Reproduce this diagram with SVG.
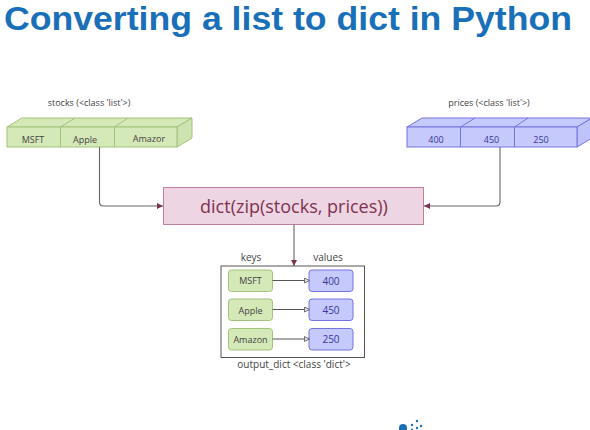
<svg xmlns="http://www.w3.org/2000/svg" width="590" height="430" viewBox="0 0 590 430">
<style>
text{font-family:"Open Sans","Noto Sans","Liberation Sans",sans-serif;text-anchor:middle}
.lbl{font-size:9px;fill:#444}
.g{fill:#d5e8b8;stroke:#a3c27c;stroke-width:1}
.gs{fill:#cfe3b0;stroke:#a3c27c;stroke-width:1}
.gt{font-size:9px;fill:#444}
.b{fill:#c6c9fb;stroke:#7474e0;stroke-width:1}
.bs{fill:#bfc3f9;stroke:#7474e0;stroke-width:1}
.bt{font-size:9px;fill:#37379a}
.c{fill:none;stroke:#666;stroke-width:1.100}
.m{fill:none;stroke:#555;stroke-width:1}
</style>
<defs>
<marker id="a" markerUnits="userSpaceOnUse" markerWidth="7" markerHeight="7" refX="6" refY="3.500" orient="auto"><path d="M0 0.500L6 3.500L0 6.500Z" fill="#7d3350"/></marker>
<marker id="o" markerUnits="userSpaceOnUse" markerWidth="6" markerHeight="6" refX="5" refY="3" orient="auto"><path d="M0.500 0.500L5.500 3L0.500 5.500Z" fill="#ddd" stroke="#555" stroke-width="0.800"/></marker>
</defs>
<rect width="590" height="430" fill="#fff"/>
<text x="288" y="30" style="font-family:'Liberation Sans',Arial,sans-serif;font-size:33px;font-weight:700;fill:#1a70b8" textLength="568" lengthAdjust="spacingAndGlyphs">Converting a list to dict in Python</text>
<g id="stocks">
<text class="lbl" x="89" y="106">stocks (&lt;class 'list'&gt;)</text>
<path class="g" d="M7 127L22 118H192L177 127Z"/>
<path class="gs" d="M177 127L192 118V138L177 147Z"/>
<rect class="g" x="7" y="127" width="170" height="20"/>
<path fill="none" stroke="#a3c27c" d="M60.500 127V147M114.500 127V147M60.500 127L75 118M114.500 127L128 118"/>
<text class="gt" x="33" y="142.500">MSFT</text>
<text class="gt" x="85" y="142.500">Apple</text>
<text class="gt" x="149" y="142">Amazor</text>
</g>
<g id="prices">
<text class="lbl" x="489" y="106">prices (&lt;class 'list'&gt;)</text>
<path class="b" d="M407 127L422 118H592L577 127Z"/>
<path class="bs" d="M577 127L592 118V138L577 147Z"/>
<rect class="b" x="407" y="127" width="170" height="20"/>
<path fill="none" stroke="#7474e0" d="M460.500 127V147M514.500 127V147M460.500 127L475 118M514.500 127L528 118"/>
<text class="bt" x="436" y="142.500">400</text>
<text class="bt" x="491.500" y="142.500">450</text>
<text class="bt" x="541" y="142.500">250</text>
</g>
<g id="zip">
<rect x="163.500" y="187.500" width="260" height="37" fill="#eed5e3" stroke="#bf7f9f" stroke-width="1"/>
<text x="294" y="212.500" style="font-size:18px;fill:#7d3350">dict(zip(stocks, prices))</text>
</g>
<g id="output">
<rect x="221" y="266" width="143.500" height="91.500" fill="#fff" stroke="#555" stroke-width="1"/>
<text class="lbl" x="251" y="261" style="font-size:10px">keys</text>
<text class="lbl" x="328" y="261" style="font-size:10px">values</text>
<text class="lbl" x="294" y="368" style="font-size:10px">output_dict &lt;class 'dict'&gt;</text>
</g>
<g id="k1"><rect class="g" x="228.500" y="270" width="44" height="21.500" rx="3"/><text class="gt" x="250.500" y="284">MSFT</text></g>
<g id="k2"><rect class="g" x="228.500" y="299" width="44" height="21.500" rx="3"/><text class="gt" x="250.500" y="313.500">Apple</text></g>
<g id="k3"><rect class="g" x="228.500" y="328.500" width="44" height="21.500" rx="3"/><text class="gt" x="250.500" y="342.500">Amazon</text></g>
<g id="v1"><rect class="b" x="309" y="270" width="44" height="21.500" rx="3"/><text class="bt" x="331" y="284.500" style="font-size:10px">400</text></g>
<g id="v2"><rect class="b" x="309" y="299" width="44" height="21.500" rx="3"/><text class="bt" x="331" y="313.500" style="font-size:10px">450</text></g>
<g id="v3"><rect class="b" x="309" y="328.500" width="44" height="21.500" rx="3"/><text class="bt" x="331" y="343" style="font-size:10px">250</text></g>
<g id="connectors">
<path class="c" d="M99.500 147V202Q99.500 206 103.500 206H163" marker-end="url(#a)"/>
<path class="c" d="M500 147V202Q500 206 496 206H424" marker-end="url(#a)"/>
<path class="c" d="M294 224.500V266" marker-end="url(#a)"/>
<path class="m" d="M272.500 280.500H309" marker-end="url(#o)"/>
<path class="m" d="M272.500 309.500H309" marker-end="url(#o)"/>
<path class="m" d="M272.500 339H309" marker-end="url(#o)"/>
</g>
<g id="logo" fill="#1a70b8"><path d="M399 430V428A4 4 0 0 1 407 428V430Z"/><circle cx="412" cy="425" r="1.200"/><circle cx="417" cy="421" r="1.200"/><circle cx="417" cy="428" r="1.200"/><circle cx="421" cy="426" r="1.200"/><circle cx="412" cy="429.500" r="1"/></g>
</svg>
